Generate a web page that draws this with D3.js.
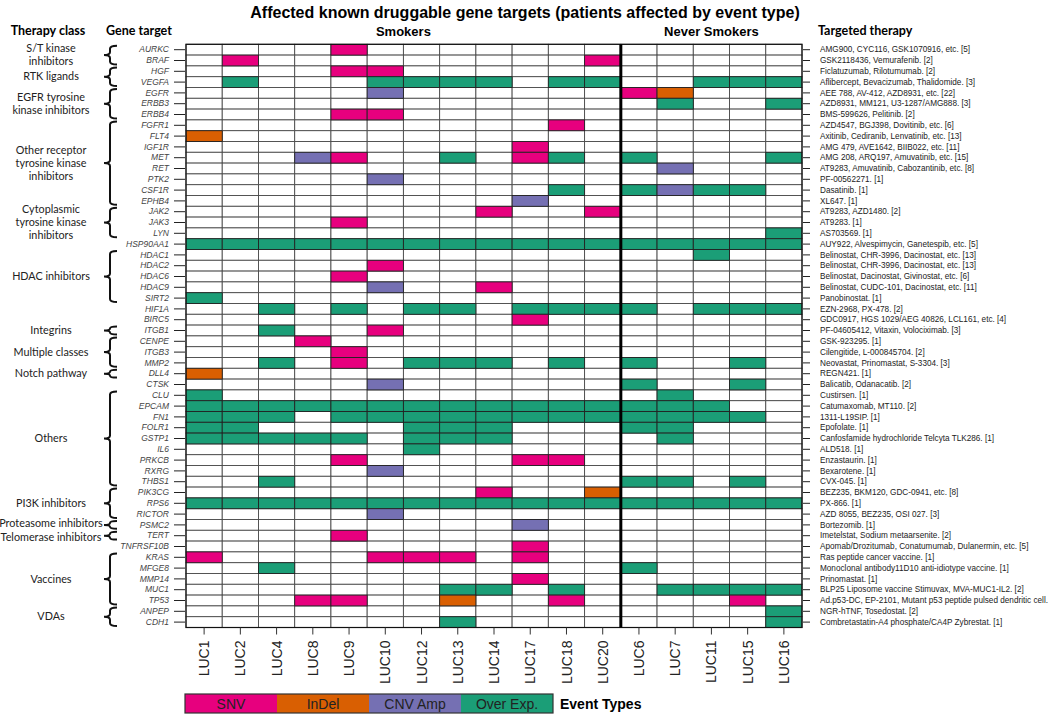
<!DOCTYPE html>
<html>
<head>
<meta charset="utf-8">
<script src="https://cdn.jsdelivr.net/npm/d3@7"></script>
<style>
  body { margin: 0; background: #fff; }
  svg { display: block; }
</style>
</head>
<body>
<div id="chart"></div>
<script>
// patients, smokers first then never smokers
const smokers = ["LUC1", "LUC2", "LUC4", "LUC8", "LUC9", "LUC10", "LUC12", "LUC13", "LUC14", "LUC17", "LUC18", "LUC20"];
const neverSmokers = ["LUC6", "LUC7", "LUC11", "LUC15", "LUC16"];
const samples = smokers.concat(neverSmokers);

const genes = ["AURKC", "BRAF", "HGF", "VEGFA", "EGFR", "ERBB3", "ERBB4", "FGFR1", "FLT4", "IGF1R",
  "MET", "RET", "PTK2", "CSF1R", "EPHB4", "JAK2", "JAK3", "LYN", "HSP90AA1", "HDAC1",
  "HDAC2", "HDAC6", "HDAC9", "SIRT2", "HIF1A", "BIRC5", "ITGB1", "CENPE", "ITGB3", "MMP2",
  "DLL4", "CTSK", "CLU", "EPCAM", "FN1", "FOLR1", "GSTP1", "IL6", "PRKCB", "RXRG",
  "THBS1", "PIK3CG", "RPS6", "RICTOR", "PSMC2", "TERT", "TNFRSF10B", "KRAS", "MFGE8", "MMP14",
  "MUC1", "TP53", "ANPEP", "CDH1"];

const therapies = ["AMG900, CYC116, GSK1070916, etc. [5]", "GSK2118436, Vemurafenib. [2]",
  "Ficlatuzumab, Rilotumumab. [2]", "Aflibercept, Bevacizumab, Thalidomide. [3]",
  "AEE 788, AV-412, AZD8931, etc. [22]", "AZD8931, MM121, U3-1287/AMG888. [3]",
  "BMS-599626, Pelitinib. [2]", "AZD4547, BGJ398, Dovitinib, etc. [6]",
  "Axitinib, Cediranib, Lenvatinib, etc. [13]", "AMG 479, AVE1642, BIIB022, etc. [11]",
  "AMG 208, ARQ197, Amuvatinib, etc. [15]", "AT9283, Amuvatinib, Cabozantinib, etc. [8]",
  "PF-00562271. [1]", "Dasatinib. [1]", "XL647. [1]", "AT9283, AZD1480. [2]", "AT9283. [1]",
  "AS703569. [1]", "AUY922, Alvespimycin, Ganetespib, etc. [5]",
  "Belinostat, CHR-3996, Dacinostat, etc. [13]", "Belinostat, CHR-3996, Dacinostat, etc. [13]",
  "Belinostat, Dacinostat, Givinostat, etc. [6]", "Belinostat, CUDC-101, Dacinostat, etc. [11]",
  "Panobinostat. [1]", "EZN-2968, PX-478. [2]", "GDC0917, HGS 1029/AEG 40826, LCL161, etc. [4]",
  "PF-04605412, Vitaxin, Volociximab. [3]", "GSK-923295. [1]", "Cilengitide, L-000845704. [2]",
  "Neovastat, Prinomastat, S-3304. [3]", "REGN421. [1]", "Balicatib, Odanacatib. [2]",
  "Custirsen. [1]", "Catumaxomab, MT110. [2]", "1311-L19SIP. [1]", "Epofolate. [1]",
  "Canfosfamide hydrochloride Telcyta TLK286. [1]", "ALD518. [1]", "Enzastaurin. [1]",
  "Bexarotene. [1]", "CVX-045. [1]", "BEZ235, BKM120, GDC-0941, etc. [8]", "PX-866. [1]",
  "AZD 8055, BEZ235, OSI 027. [3]", "Bortezomib. [1]", "Imetelstat, Sodium metaarsenite. [2]",
  "Apomab/Drozitumab, Conatumumab, Dulanermin, etc. [5]", "Ras peptide cancer vaccine. [1]",
  "Monoclonal antibody11D10 anti-idiotype vaccine. [1]", "Prinomastat. [1]",
  "BLP25 Liposome vaccine Stimuvax, MVA-MUC1-IL2. [2]",
  "Ad.p53-DC, EP-2101, Mutant p53 peptide pulsed dendritic cell. [3]",
  "NGR-hTNF, Tosedostat. [2]", "Combretastatin-A4 phosphate/CA4P Zybrestat. [1]"];

// therapy classes: label lines, first gene, last gene
const therapyClasses = [
  [["S/T kinase", "inhibitors"], "AURKC", "BRAF"],
  [["RTK ligands"], "HGF", "VEGFA"],
  [["EGFR tyrosine", "kinase inhibitors"], "EGFR", "ERBB4"],
  [["Other receptor", "tyrosine kinase", "inhibitors"], "FGFR1", "EPHB4"],
  [["Cytoplasmic", "tyrosine kinase", "inhibitors"], "JAK2", "LYN"],
  [["HDAC inhibitors"], "HDAC1", "SIRT2"],
  [["Integrins"], "ITGB1", "ITGB1"],
  [["Multiple classes"], "CENPE", "MMP2"],
  [["Notch pathway"], "DLL4", "DLL4"],
  [["Others"], "CLU", "THBS1"],
  [["PI3K inhibitors"], "PIK3CG", "RICTOR"],
  [["Proteasome inhibitors"], "PSMC2", "PSMC2"],
  [["Telomerase inhibitors"], "TERT", "TERT"],
  [["Vaccines"], "KRAS", "TP53"],
  [["VDAs"], "ANPEP", "CDH1"]
];

const eventTypes = ["SNV", "InDel", "CNV Amp", "Over Exp."];
const eventColors = ["#e7007e", "#d95f02", "#7570b3", "#1b9e77"];

// [gene, patient]
const snvEvents = [
  ["AURKC", "LUC9"], ["BRAF", "LUC2"], ["BRAF", "LUC20"], ["HGF", "LUC9"], ["HGF", "LUC10"],
  ["EGFR", "LUC6"], ["ERBB4", "LUC9"], ["ERBB4", "LUC10"], ["FGFR1", "LUC18"], ["IGF1R", "LUC17"],
  ["MET", "LUC9"], ["MET", "LUC17"], ["JAK2", "LUC14"], ["JAK2", "LUC20"], ["JAK3", "LUC9"],
  ["HDAC2", "LUC10"], ["HDAC6", "LUC9"], ["HDAC9", "LUC14"], ["BIRC5", "LUC17"], ["ITGB1", "LUC10"],
  ["CENPE", "LUC8"], ["ITGB3", "LUC9"], ["MMP2", "LUC9"], ["PRKCB", "LUC9"], ["PRKCB", "LUC17"],
  ["PRKCB", "LUC18"], ["PIK3CG", "LUC14"], ["TERT", "LUC9"], ["TNFRSF10B", "LUC17"],
  ["KRAS", "LUC1"], ["KRAS", "LUC10"], ["KRAS", "LUC12"], ["KRAS", "LUC13"], ["KRAS", "LUC17"],
  ["MMP14", "LUC17"], ["TP53", "LUC8"], ["TP53", "LUC9"], ["TP53", "LUC18"], ["TP53", "LUC15"]
];
const indelEvents = [
  ["EGFR", "LUC7"], ["FLT4", "LUC1"], ["DLL4", "LUC1"], ["PIK3CG", "LUC20"], ["TP53", "LUC13"]
];
const cnvEvents = [
  ["EGFR", "LUC10"], ["MET", "LUC8"], ["RET", "LUC7"], ["PTK2", "LUC10"], ["CSF1R", "LUC7"],
  ["EPHB4", "LUC17"], ["HDAC9", "LUC10"], ["CTSK", "LUC10"], ["RXRG", "LUC10"], ["RICTOR", "LUC10"],
  ["PSMC2", "LUC17"]
];
// gene -> patients with over expression
const overExpEvents = [
  ["VEGFA", ["LUC2", "LUC10", "LUC12", "LUC13", "LUC14", "LUC18", "LUC20", "LUC11", "LUC15", "LUC16"]],
  ["ERBB3", ["LUC7", "LUC16"]],
  ["MET", ["LUC13", "LUC18", "LUC6", "LUC16"]],
  ["CSF1R", ["LUC18", "LUC6", "LUC11", "LUC15"]],
  ["LYN", ["LUC16"]],
  ["HSP90AA1", ["LUC1", "LUC2", "LUC4", "LUC8", "LUC9", "LUC10", "LUC12", "LUC13", "LUC14", "LUC17", "LUC18", "LUC20", "LUC6", "LUC7", "LUC11", "LUC15", "LUC16"]],
  ["HDAC1", ["LUC11"]],
  ["SIRT2", ["LUC1"]],
  ["HIF1A", ["LUC4", "LUC9", "LUC12", "LUC13", "LUC17", "LUC18", "LUC20", "LUC6", "LUC11", "LUC15", "LUC16"]],
  ["ITGB1", ["LUC4"]],
  ["MMP2", ["LUC4", "LUC12", "LUC13", "LUC14", "LUC18", "LUC6", "LUC15"]],
  ["CTSK", ["LUC6", "LUC15"]],
  ["CLU", ["LUC1", "LUC7"]],
  ["EPCAM", ["LUC1", "LUC2", "LUC4", "LUC8", "LUC9", "LUC10", "LUC12", "LUC13", "LUC14", "LUC17", "LUC18", "LUC20", "LUC6", "LUC7", "LUC11"]],
  ["FN1", ["LUC1", "LUC2", "LUC4", "LUC9", "LUC10", "LUC12", "LUC13", "LUC14", "LUC17", "LUC18", "LUC20", "LUC6", "LUC7", "LUC11", "LUC15"]],
  ["FOLR1", ["LUC1", "LUC2", "LUC12", "LUC13", "LUC14", "LUC6", "LUC7"]],
  ["GSTP1", ["LUC1", "LUC2", "LUC4", "LUC8", "LUC9", "LUC12", "LUC13", "LUC14", "LUC7"]],
  ["IL6", ["LUC12"]],
  ["THBS1", ["LUC4", "LUC6", "LUC7", "LUC15"]],
  ["RPS6", ["LUC1", "LUC2", "LUC4", "LUC8", "LUC9", "LUC10", "LUC12", "LUC13", "LUC14", "LUC17", "LUC18", "LUC20", "LUC6", "LUC7", "LUC11", "LUC15", "LUC16"]],
  ["MFGE8", ["LUC4", "LUC6"]],
  ["MUC1", ["LUC13", "LUC14", "LUC18", "LUC7", "LUC11", "LUC15", "LUC16"]],
  ["ANPEP", ["LUC16"]],
  ["CDH1", ["LUC13", "LUC16"]]
];

const width = 1050, height = 714;
const gridLeft = 186, gridRight = 802, gridTop = 44.3, gridBottom = 627.5;

const svg = d3.select("#chart").append("svg")
  .attr("width", width)
  .attr("height", height)
  .style("font-family", "Liberation Sans, Arial, sans-serif");

const x = d3.scaleBand().domain(samples).range([gridLeft, gridRight]);
const y = d3.scaleBand().domain(genes).range([gridTop, gridBottom]);
const color = d3.scaleOrdinal().domain(eventTypes).range(eventColors);

// gene|patient -> event type
const lookup = new Map();
snvEvents.forEach(([g, s]) => lookup.set(g + "|" + s, "SNV"));
indelEvents.forEach(([g, s]) => lookup.set(g + "|" + s, "InDel"));
cnvEvents.forEach(([g, s]) => lookup.set(g + "|" + s, "CNV Amp"));
overExpEvents.forEach(([g, list]) => list.forEach(s => lookup.set(g + "|" + s, "Over Exp.")));

const cells = [];
genes.forEach(g => samples.forEach(s => cells.push({ gene: g, sample: s, type: lookup.get(g + "|" + s) })));

// empty cells first, filled ones on top
cells.sort((a, b) => (a.type ? 1 : 0) - (b.type ? 1 : 0));

svg.append("g").selectAll("rect")
  .data(cells)
  .join("rect")
  .attr("x", d => x(d.sample))
  .attr("y", d => y(d.gene))
  .attr("width", x.bandwidth())
  .attr("height", y.bandwidth())
  .attr("fill", d => d.type ? color(d.type) : "#fff")
  .attr("stroke", d => d.type ? "#222" : "#4a4a4a")
  .attr("stroke-width", 0.9);

// outer border + smokers / never smokers divider
svg.append("rect")
  .attr("x", gridLeft).attr("y", gridTop)
  .attr("width", gridRight - gridLeft).attr("height", gridBottom - gridTop)
  .attr("fill", "none").attr("stroke", "#111").attr("stroke-width", 1.2);

svg.append("line")
  .attr("x1", x(neverSmokers[0])).attr("x2", x(neverSmokers[0]))
  .attr("y1", gridTop).attr("y2", gridBottom)
  .attr("stroke", "#000").attr("stroke-width", 3);

// left axis: gene names
const leftAxis = svg.append("g")
  .attr("transform", `translate(${gridLeft - 1},0)`)
  .call(d3.axisLeft(y).tickSize(11).tickPadding(5));
leftAxis.select(".domain").remove();
leftAxis.selectAll("line").attr("stroke", "#222");
leftAxis.selectAll("text")
  .style("font-size", "8.5px")
  .style("font-style", "italic")
  .attr("fill", "#444");

// right axis: targeted therapies
const rightAxis = svg.append("g")
  .attr("transform", `translate(${gridRight + 1},0)`)
  .call(d3.axisRight(y).tickSize(7).tickPadding(10).tickFormat((d, i) => therapies[i]));
rightAxis.select(".domain").remove();
rightAxis.selectAll("line").attr("stroke", "#222");
rightAxis.selectAll("text")
  .style("font-size", "8.2px")
  .attr("fill", "#222");

// bottom axis: patients
const bottomAxis = svg.append("g")
  .attr("transform", `translate(0,${gridBottom})`)
  .call(d3.axisBottom(x).tickSize(7));
bottomAxis.select(".domain").remove();
bottomAxis.selectAll("line").attr("stroke", "#333");
bottomAxis.selectAll("text")
  .attr("transform", "rotate(-90)")
  .attr("x", -13)
  .attr("y", 0)
  .attr("dy", "0.36em")
  .attr("text-anchor", "end")
  .style("font-size", "14px")
  .attr("fill", "#222");

// brackets and therapy class names
const classFont = "Lato, 'Open Sans', sans-serif";
therapyClasses.forEach(([lines, from, to], k) => {
  const y0 = y(from) + 1.5;
  const y1 = y(to) + y.bandwidth() - 1.5;
  const mid = (y0 + y1) / 2;
  const bx = 110;
  const c = Math.min(3, (y1 - y0) / 4);
  svg.append("path")
    .attr("d", `M${bx + 7},${y0} Q${bx},${y0} ${bx},${y0 + c} L${bx},${mid - c}
      Q${bx},${mid} ${bx - 6},${mid} Q${bx},${mid} ${bx},${mid + c}
      L${bx},${y1 - c} Q${bx},${y1} ${bx + 7},${y1}`)
    .attr("fill", "none")
    .attr("stroke", "#111")
    .attr("stroke-width", 2);

  // single-row classes sitting right next to each other get pushed apart a little
  let nudge = 0;
  const prev = therapyClasses[k - 1], next = therapyClasses[k + 1];
  if (next && genes.indexOf(next[1]) === genes.indexOf(to) + 1 && from === to && next[1] === next[2]) nudge = -2;
  if (prev && genes.indexOf(prev[2]) === genes.indexOf(from) - 1 && from === to && prev[1] === prev[2]) nudge = 2;

  const lh = 12.8;
  const t = svg.append("text")
    .attr("x", 51)
    .attr("text-anchor", "middle")
    .style("font-family", classFont)
    .style("font-size", "10.8px")
    .attr("fill", "#222");
  lines.forEach((l, i) => {
    t.append("tspan")
      .attr("x", 51)
      .attr("y", mid + nudge + (i - (lines.length - 1) / 2) * lh)
      .attr("dy", "0.35em")
      .text(l);
  });
});

// headers
svg.append("text")
  .attr("x", width / 2).attr("y", 18)
  .attr("text-anchor", "middle")
  .style("font-size", "16px").style("font-weight", "bold")
  .text("Affected known druggable gene targets (patients affected by event type)");

svg.append("text")
  .attr("x", (x(smokers[0]) + x(neverSmokers[0])) / 2).attr("y", 36)
  .attr("text-anchor", "middle")
  .style("font-size", "13px").style("font-weight", "bold")
  .text("Smokers");

svg.append("text")
  .attr("x", (x(neverSmokers[0]) + gridRight) / 2).attr("y", 36)
  .attr("text-anchor", "middle")
  .style("font-size", "13px").style("font-weight", "bold")
  .text("Never Smokers");

svg.append("text")
  .attr("x", 48).attr("y", 35)
  .attr("text-anchor", "middle")
  .style("font-family", classFont)
  .style("font-size", "12.5px").style("font-weight", "bold")
  .text("Therapy class");

svg.append("text")
  .attr("x", 139).attr("y", 35)
  .attr("text-anchor", "middle")
  .style("font-family", classFont)
  .style("font-size", "12.5px").style("font-weight", "bold")
  .text("Gene target");

svg.append("text")
  .attr("x", 818).attr("y", 35)
  .style("font-family", classFont)
  .style("font-size", "12.5px").style("font-weight", "bold")
  .text("Targeted therapy");

// legend
const legW = 92, legX = 185, legY = 694, legH = 19;
const legend = svg.append("g");
legend.selectAll("rect")
  .data(eventTypes)
  .join("rect")
  .attr("x", (d, i) => legX + i * legW)
  .attr("y", legY)
  .attr("width", legW)
  .attr("height", legH)
  .attr("fill", d => color(d));
legend.append("rect")
  .attr("x", legX).attr("y", legY)
  .attr("width", legW * eventTypes.length).attr("height", legH)
  .attr("fill", "none").attr("stroke", "#333").attr("stroke-width", 1.2);
legend.selectAll("text.lab")
  .data(eventTypes)
  .join("text")
  .attr("class", "lab")
  .attr("x", (d, i) => legX + i * legW + legW / 2)
  .attr("y", legY + legH / 2)
  .attr("dy", "0.36em")
  .attr("text-anchor", "middle")
  .style("font-size", "14px")
  .attr("fill", "#222")
  .text(d => d);
legend.append("text")
  .attr("x", legX + legW * eventTypes.length + 7)
  .attr("y", legY + legH / 2)
  .attr("dy", "0.36em")
  .style("font-size", "14px").style("font-weight", "bold")
  .text("Event Types");
</script>
</body>
</html>
